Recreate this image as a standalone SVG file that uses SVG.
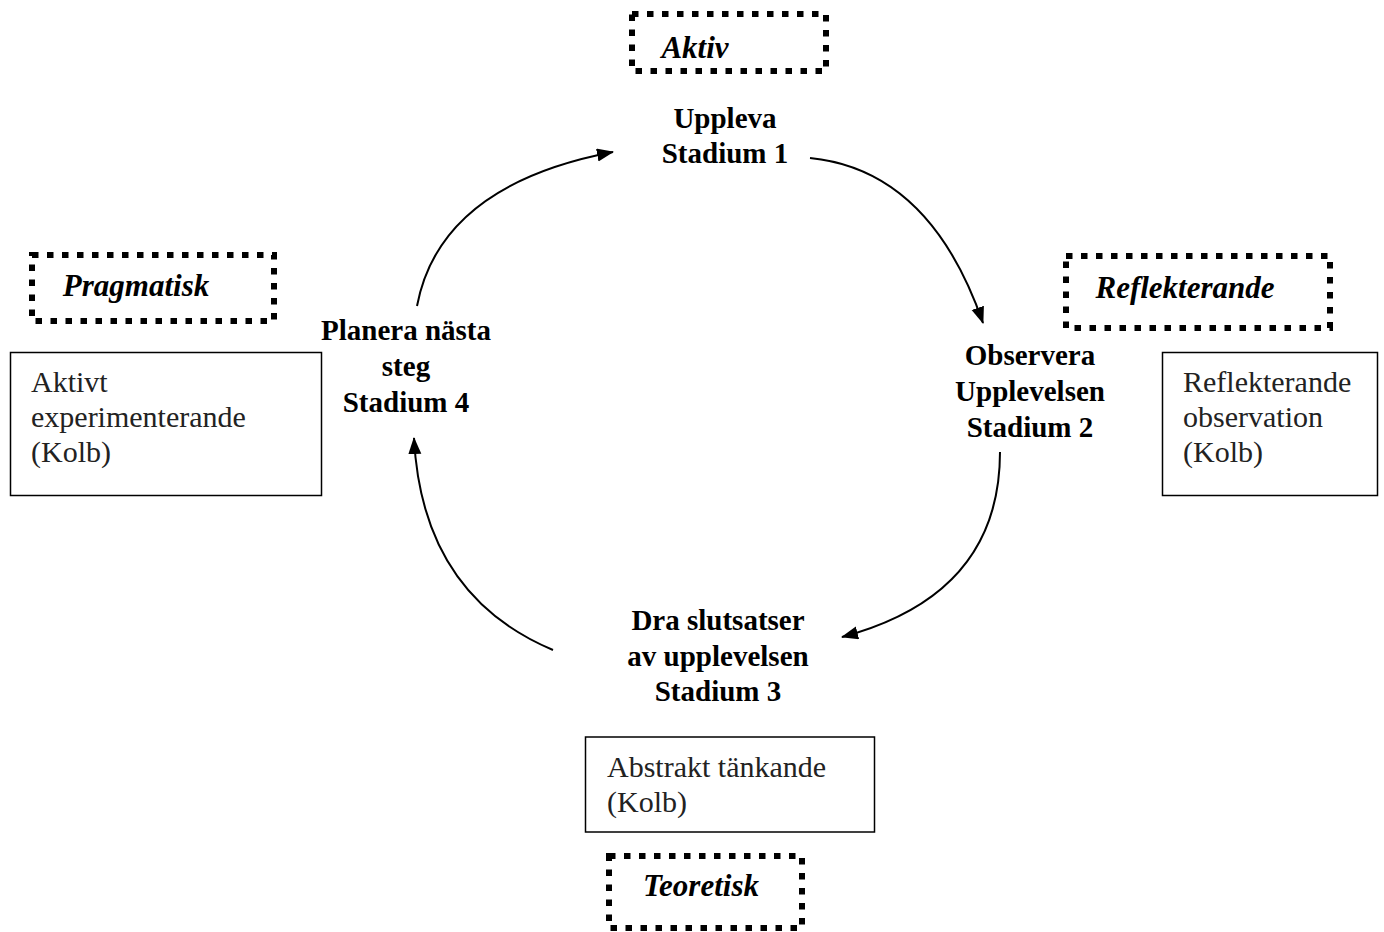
<svg xmlns="http://www.w3.org/2000/svg" width="1384" height="932" viewBox="0 0 1384 932">
<style>
.dot{fill:none;stroke:#000;stroke-width:6;stroke-dasharray:6.5 8.5}
.box{fill:#fff;stroke:#000;stroke-width:1.5}
.lbl{font-family:"Liberation Serif",serif;font-weight:bold;font-style:italic;font-size:31px;fill:#000;text-anchor:middle}
.st{font-family:"Liberation Serif",serif;font-weight:bold;font-size:29px;fill:#000;text-anchor:middle}
.tx{font-family:"Liberation Serif",serif;font-size:30px;fill:#222}
.arc{fill:none;stroke:#000;stroke-width:2;marker-end:url(#ah)}
</style>
<defs>
<marker id="ah" markerUnits="userSpaceOnUse" markerWidth="18" markerHeight="14" refX="16" refY="6.5" orient="auto">
<path d="M0,0 L17,6.5 L0,13 Z" fill="#000"/>
</marker>
</defs>
<rect width="1384" height="932" fill="#fff"/>
<g id="aktiv">
<rect class="dot" x="632" y="14" width="194" height="57"/>
<text class="lbl" x="695" y="58">Aktiv</text>
</g>
<g id="pragmatisk">
<rect class="dot" x="32" y="255" width="242" height="66"/>
<text class="lbl" x="136" y="296">Pragmatisk</text>
</g>
<g id="reflekterande">
<rect class="dot" x="1066" y="256" width="264" height="72"/>
<text class="lbl" x="1185" y="298">Reflekterande</text>
</g>
<g id="teoretisk">
<rect class="dot" x="609" y="856" width="193" height="72"/>
<text class="lbl" x="701" y="896">Teoretisk</text>
</g>
<g id="stadium1">
<text class="st" x="725" y="128">Uppleva</text>
<text class="st" x="725" y="163">Stadium 1</text>
</g>
<g id="stadium2">
<text class="st" x="1030" y="365">Observera</text>
<text class="st" x="1030" y="401">Upplevelsen</text>
<text class="st" x="1030" y="437">Stadium 2</text>
</g>
<g id="stadium3">
<text class="st" x="718" y="630">Dra slutsatser</text>
<text class="st" x="718" y="666">av upplevelsen</text>
<text class="st" x="718" y="701">Stadium 3</text>
</g>
<g id="stadium4">
<text class="st" x="406" y="340">Planera nästa</text>
<text class="st" x="406" y="376">steg</text>
<text class="st" x="406" y="412">Stadium 4</text>
</g>
<g id="kolb-aktivt">
<rect class="box" x="10.5" y="352.5" width="311" height="143"/>
<text class="tx" x="31" y="392">Aktivt</text>
<text class="tx" x="31" y="427">experimenterande</text>
<text class="tx" x="31" y="462">(Kolb)</text>
</g>
<g id="kolb-reflekterande">
<rect class="box" x="1162.5" y="352.5" width="215" height="143"/>
<text class="tx" x="1183" y="392">Reflekterande</text>
<text class="tx" x="1183" y="427">observation</text>
<text class="tx" x="1183" y="462">(Kolb)</text>
</g>
<g id="kolb-abstrakt">
<rect class="box" x="585.5" y="737" width="289" height="95"/>
<text class="tx" x="607" y="777">Abstrakt tänkande</text>
<text class="tx" x="607" y="812">(Kolb)</text>
</g>
<g id="connectors">
<path class="arc" d="M417,306 Q440,185 613,152"/>
<path class="arc" d="M810,158 Q930,170 983,323"/>
<path class="arc" d="M1000,452 Q1000,595 842,637"/>
<path class="arc" d="M553,650 Q422,595 414,438"/>
</g>
</svg>
